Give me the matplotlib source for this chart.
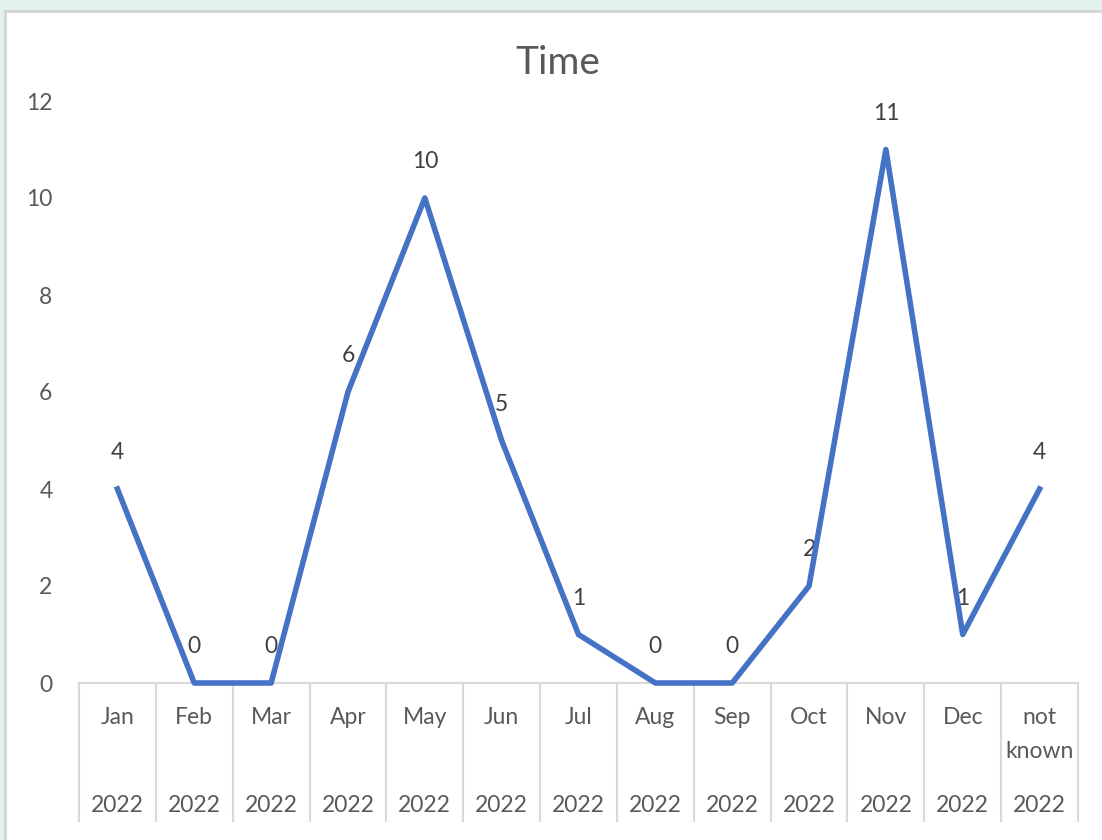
import matplotlib.pyplot as plt
from matplotlib.patches import Rectangle
from matplotlib.ticker import FixedLocator

months = ["Jan", "Feb", "Mar", "Apr", "May", "Jun", "Jul", "Aug", "Sep",
          "Oct", "Nov", "Dec", "not known"]
years = ["2022"] * 13
counts = [4, 0, 0, 6, 10, 5, 1, 0, 0, 2, 11, 1, 4]

LINE = "#4472C4"
TEXT = "#595959"
GRID = "#D9D9D9"
FS = 16.5

plt.rcParams['font.family'] = ['Lato', 'DejaVu Sans']

fig = plt.figure(figsize=(11.02, 8.4), dpi=100)
fig.patch.set_facecolor("#E3F2EC")
# white chart area with grey frame, like the spreadsheet chart box
fig.patches.append(Rectangle((5 / 1102, -0.01), 1.02, 1 - 11 / 840 + 0.01,
                             transform=fig.transFigure, facecolor="white",
                             edgecolor="#D4D4D4", linewidth=2, zorder=-5))

ax = fig.add_axes([79 / 1102, 1 - 683 / 840, (1078 - 79) / 1102, (683 - 101) / 840])
ax.set_facecolor("none")
ax.set_zorder(2)

x = list(range(len(months)))
ax.plot(x, counts, color=LINE, linewidth=4, solid_joinstyle="round",
        clip_on=False, zorder=4)

for xi, v in zip(x, counts):
    ax.annotate(str(v), (xi, v), xytext=(0, 26), textcoords="offset points",
                ha="center", va="center", fontsize=FS, color="#404040")

ax.set_xlim(-0.5, len(months) - 0.5)
ax.set_ylim(0, 12)
ax.set_yticks(range(0, 13, 2))
ax.tick_params(axis="y", length=0, pad=19, labelsize=FS, labelcolor=TEXT)

# category separators hanging under the axis
ax.set_xticks([])
ax.xaxis.set_minor_locator(FixedLocator([i - 0.5 for i in range(len(months) + 1)]))
ax.tick_params(axis="x", which="minor", length=100, width=1.5, color=GRID, direction="out")

for s in ["top", "right", "left"]:
    ax.spines[s].set_visible(False)
ax.spines["bottom"].set_color(GRID)
ax.spines["bottom"].set_linewidth(1.5)

for xi, m, yr in zip(x, months, years):
    for j, part in enumerate(m.split()):
        ax.annotate(part, (xi, 0), xycoords=("data", "axes fraction"),
                    xytext=(0, -25 - 24 * j), textcoords="offset points",
                    ha="center", va="center", fontsize=FS, color=TEXT)
    ax.annotate(yr, (xi, 0), xycoords=("data", "axes fraction"),
                xytext=(0, -88), textcoords="offset points",
                ha="center", va="center", fontsize=FS, color=TEXT)

fig.text(558 / 1102, 1 - 63 / 840, "Time", ha="center", va="center",
         fontsize=28, color=TEXT)

fig.savefig("out.png", dpi=100, facecolor=fig.get_facecolor())
